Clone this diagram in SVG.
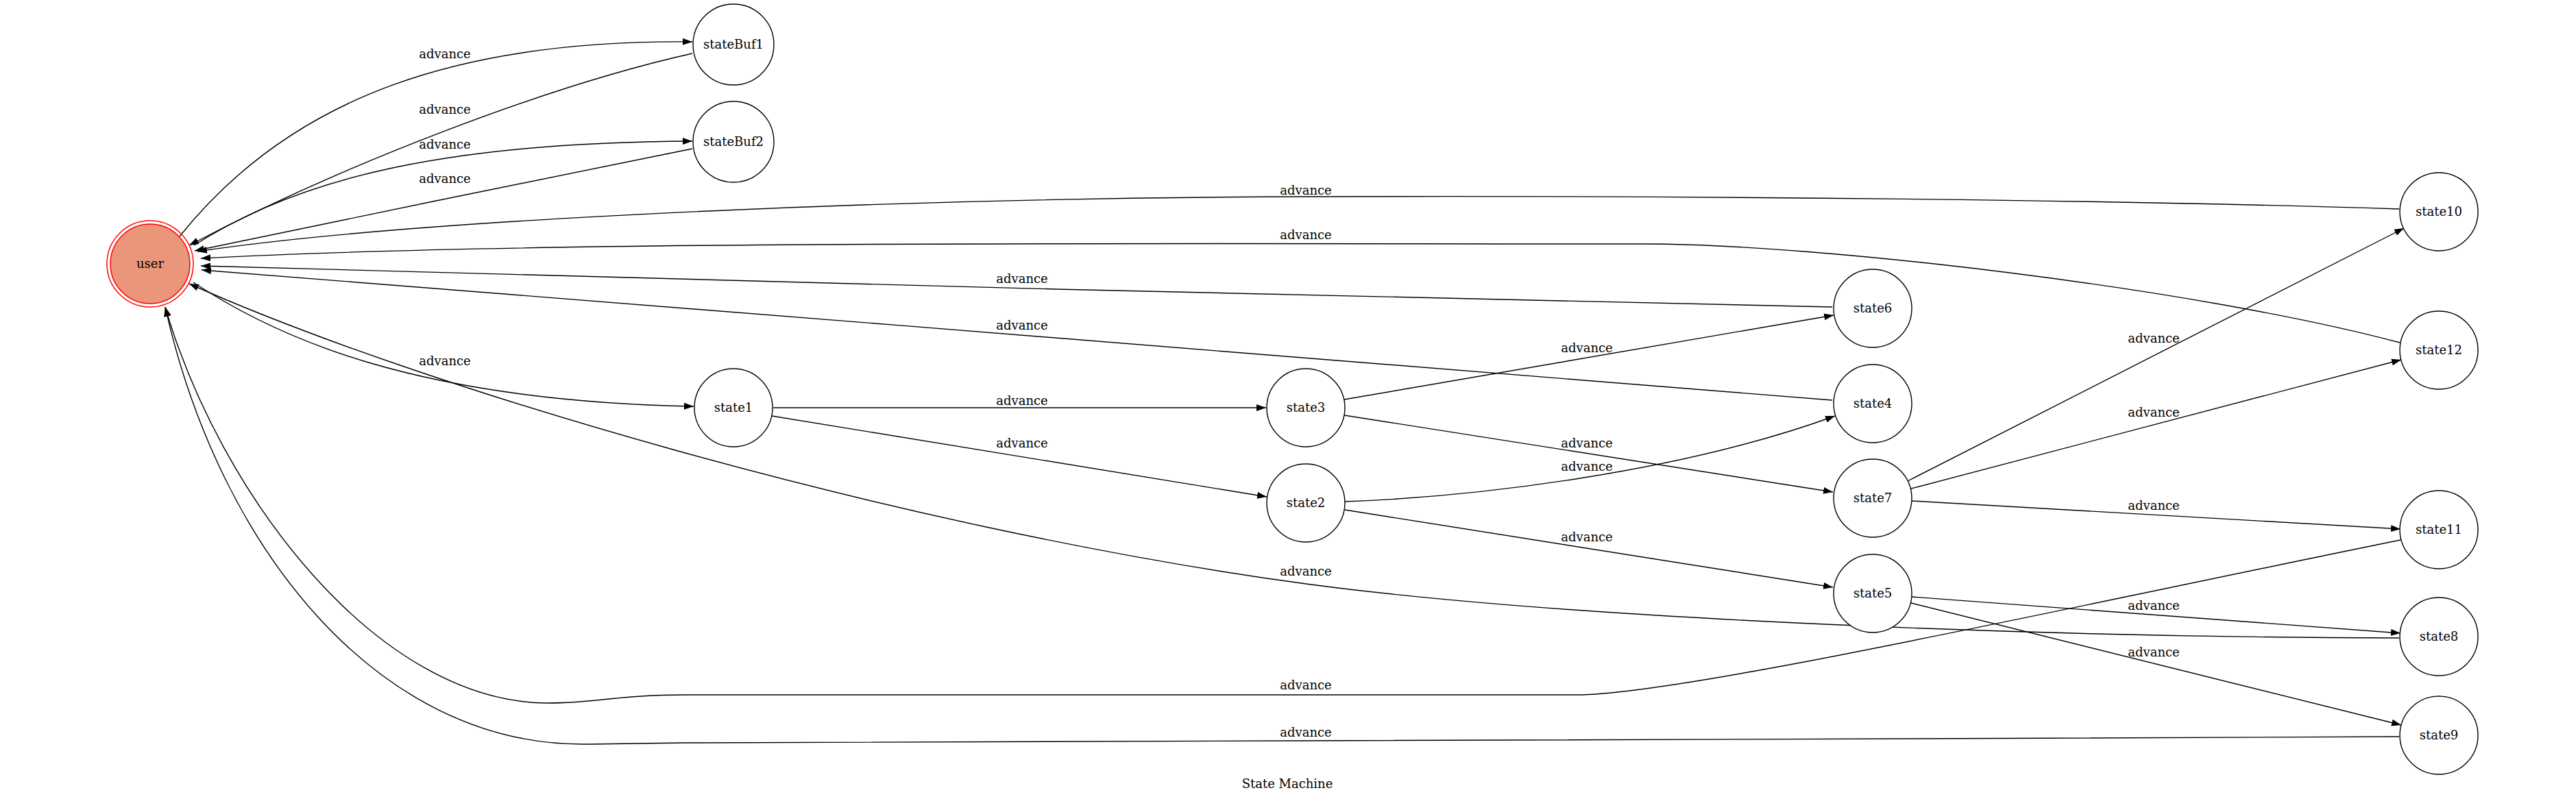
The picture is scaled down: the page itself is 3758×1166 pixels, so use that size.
<svg xmlns="http://www.w3.org/2000/svg" width="3758" height="1166" viewBox="0 0 3758 1166">
<style>
text{font-family:"DejaVu Serif","Liberation Serif",serif;font-size:18px;fill:#000;text-anchor:middle}
.n{fill:#fff;stroke:#000;stroke-width:1.4}
.e{fill:none;stroke:#000;stroke-width:1.4;marker-end:url(#ah)}
</style>
<defs>
<marker id="ah" markerUnits="userSpaceOnUse" markerWidth="14" markerHeight="10" refX="14" refY="5" orient="auto">
<path d="M0,0 L14,5 L0,10 z" fill="#000"/>
</marker>
</defs>
<rect width="3758" height="1166" fill="#fff"/>
<g id="edges">
<g><path class="e" d="M262,345 C430,135 680,58 1010,61"/><text x="649" y="85">advance</text></g>
<g><path class="e" d="M1010,78 C800,125 500,240 276,358"/><text x="649" y="166">advance</text></g>
<g><path class="e" d="M283,358 C420,270 620,208 1010,206"/><text x="649" y="217">advance</text></g>
<g><path class="e" d="M1010,217 C800,260 500,320 284,366"/><text x="649" y="267">advance</text></g>
<g><path class="e" d="M3500,305 C3100,292 2500,285 1905,287 C1300,289 600,320 288,367"/><text x="1905" y="284">advance</text></g>
<g><path class="e" d="M3501,500 C3200,420 2650,356 2400,356 C1700,356 800,350 293,377"/><text x="1905" y="349">advance</text></g>
<g><path class="e" d="M2673,448 C2000,436 900,405 293,388"/><text x="1491" y="413">advance</text></g>
<g><path class="e" d="M2673,584 C2200,548 1000,448 294,394"/><text x="1491" y="481">advance</text></g>
<g><path class="e" d="M282,412 C400,490 600,585 1012,593"/><text x="649" y="533">advance</text></g>
<g><path class="e" d="M1128,595 L1847,595"/><text x="1491" y="591">advance</text></g>
<g><path class="e" d="M1126,607 L1848,725"/><text x="1491" y="653">advance</text></g>
<g><path class="e" d="M1961,583 L2675,460"/><text x="2315" y="514">advance</text></g>
<g><path class="e" d="M1961,606 L2674,718"/><text x="2315" y="653">advance</text></g>
<g><path class="e" d="M1962,732 C2150,725 2450,690 2677,607"/><text x="2315" y="687">advance</text></g>
<g><path class="e" d="M1962,744 L2674,857"/><text x="2315" y="790">advance</text></g>
<g><path class="e" d="M2783,702 L3507,333"/><text x="3142" y="500">advance</text></g>
<g><path class="e" d="M2788,713 L3503,525"/><text x="3142" y="608">advance</text></g>
<g><path class="e" d="M2789,731 L3502,772"/><text x="3142" y="744">advance</text></g>
<g><path class="e" d="M3500,931 C3000,930 2300,905 1905,852 C1300,770 600,560 276,414"/><text x="1905" y="840">advance</text></g>
<g><path class="e" d="M2789,871 L3502,924"/><text x="3142" y="890">advance</text></g>
<g><path class="e" d="M2788,880 L3503,1058"/><text x="3142" y="958">advance</text></g>
<g><path class="e" d="M3502,788 C3000,890 2450,1014 2300,1014 L1000,1014 C900,1014 870,1026 800,1026 C550,1026 320,720 241,448"/><text x="1905" y="1006">advance</text></g>
<g><path class="e" d="M3500,1075 C3000,1077 2200,1081 1905,1081 L1000,1084 C900,1085 880,1086 850,1086 C550,1086 320,800 241,448"/><text x="1905" y="1075">advance</text></g>
</g>
<g id="user"><circle cx="219" cy="385" r="63" fill="none" stroke="#f00" stroke-width="1.5"/><circle cx="219" cy="385" r="58" fill="#e9967a" stroke="#f00" stroke-width="1.5"/><text x="219" y="391">user</text></g>
<g id="stateBuf1"><circle class="n" cx="1070" cy="65" r="59"/><text x="1070" y="71">stateBuf1</text></g>
<g id="stateBuf2"><circle class="n" cx="1070" cy="207" r="59"/><text x="1070" y="213">stateBuf2</text></g>
<g id="state1"><circle class="n" cx="1070" cy="595" r="57"/><text x="1070" y="601">state1</text></g>
<g id="state3"><circle class="n" cx="1905" cy="595" r="57"/><text x="1905" y="601">state3</text></g>
<g id="state2"><circle class="n" cx="1905" cy="734" r="57"/><text x="1905" y="740">state2</text></g>
<g id="state6"><circle class="n" cx="2732" cy="450" r="57"/><text x="2732" y="456">state6</text></g>
<g id="state4"><circle class="n" cx="2732" cy="589" r="57"/><text x="2732" y="595">state4</text></g>
<g id="state7"><circle class="n" cx="2732" cy="727" r="57"/><text x="2732" y="733">state7</text></g>
<g id="state5"><circle class="n" cx="2732" cy="866" r="57"/><text x="2732" y="872">state5</text></g>
<g id="state10"><circle class="n" cx="3558" cy="309" r="57"/><text x="3558" y="315">state10</text></g>
<g id="state12"><circle class="n" cx="3558" cy="511" r="57"/><text x="3558" y="517">state12</text></g>
<g id="state11"><circle class="n" cx="3558" cy="773" r="57"/><text x="3558" y="779">state11</text></g>
<g id="state8"><circle class="n" cx="3558" cy="929" r="57"/><text x="3558" y="935">state8</text></g>
<g id="state9"><circle class="n" cx="3558" cy="1073" r="57"/><text x="3558" y="1079">state9</text></g>
<text x="1878" y="1150">State Machine</text>
</svg>
